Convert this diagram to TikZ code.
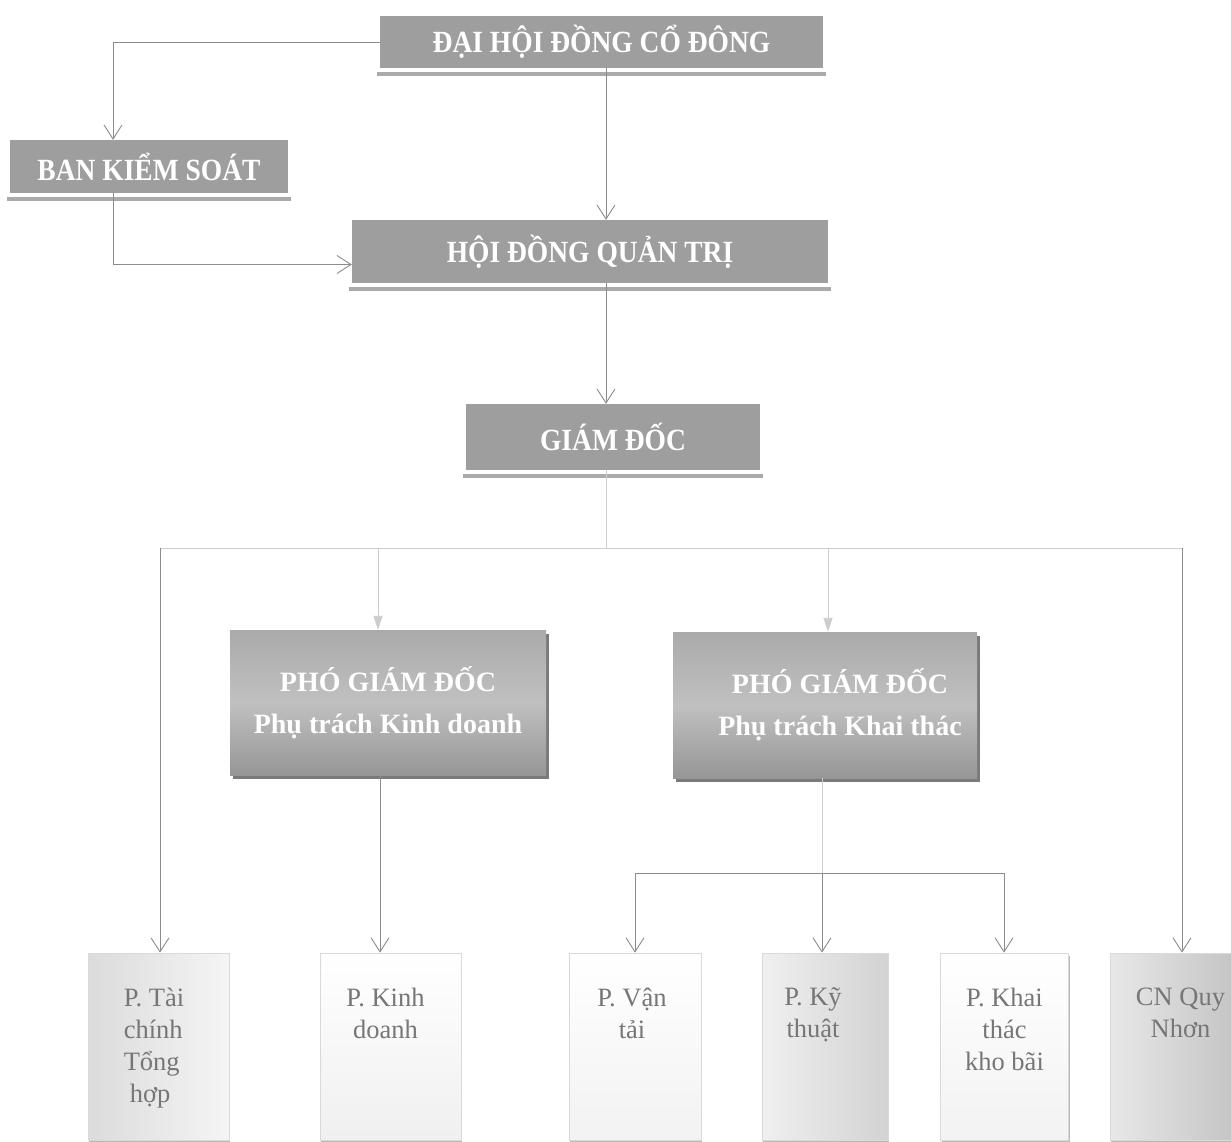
\documentclass[tikz,border=0pt]{standalone}
\usepackage{fontspec}
\setmainfont{Liberation Serif}
\usetikzlibrary{arrows.meta,calc,shadows}

\definecolor{boxgray}{RGB}{158,158,158}
\definecolor{linegray}{RGB}{140,140,140}
\definecolor{lightline}{RGB}{205,205,205}
\definecolor{txtgray}{RGB}{118,118,118}
\definecolor{shadowgray}{RGB}{170,170,170}
\definecolor{vptop}{RGB}{170,170,170}
\definecolor{vpmid}{RGB}{192,192,192}
\definecolor{vpbot}{RGB}{150,150,150}

\newcommand{\tall}[1]{\scalebox{1}[1.12]{#1}}

\tikzset{
  x=1pt, y=-1pt,
  topbox/.style={fill=boxgray, draw=none, text=white, inner sep=0pt,
    font=\fontsize{27.5}{30}\selectfont\bfseries},
  vpbox/.style={top color=vptop, bottom color=vpbot, middle color=vpmid,
    draw=none, text=white, inner sep=0pt, align=center,
    font=\fontsize{28}{42}\selectfont\bfseries,
    drop shadow={shadow xshift=3pt, shadow yshift=-4pt, fill=gray!85!black, opacity=0.9}},
  lowbox/.style={draw=gray!30, line width=0.8pt, inner sep=0pt,
    drop shadow={shadow xshift=1pt, shadow yshift=-3pt, fill=gray!55, opacity=1}},
  lowtext/.style={text=txtgray, font=\fontsize{26.5}{32}\selectfont, align=center, anchor=north, inner sep=0pt},
  conn/.style={draw=linegray, line width=0.9pt},
  arr/.style={conn, -{Straight Barb[length=14pt,width=18pt,line width=0.9pt]}},
  lightconn/.style={draw=lightline, line width=0.9pt},
  lightarr/.style={lightconn, -{Triangle[length=14pt,width=9pt]}},
}

\begin{document}
\begin{tikzpicture}
\useasboundingbox (0,0) rectangle (1231,1142);
\fill[white] (0,0) rectangle (1231,1142);

% top level boxes
\node[topbox, minimum width=443pt, minimum height=52pt] (dh) at (601.5,42) {\tall{ĐẠI HỘI ĐỒNG CỔ ĐÔNG}};
\node[topbox, minimum width=278pt, minimum height=53pt] (bks) at (149,166.5) {\tall{BAN KIỂM SOÁT}};
\node[topbox, minimum width=476pt, minimum height=63pt] (hdqt) at (590,251.5) {\tall{HỘI ĐỒNG QUẢN TRỊ}};
\node[topbox, minimum width=294pt, minimum height=66pt] (gd) at (613,437) {\tall{GIÁM ĐỐC}};

% underline shadows
\foreach \n in {dh,bks,hdqt,gd}{
  \fill[shadowgray] ($(\n.south west)+(-3,4)$) rectangle ($(\n.south east)+(3,8)$);
}

% vice directors
\node[vpbox, minimum width=316pt, minimum height=145pt] (pkd) at (388,702.5) {PHÓ GIÁM ĐỐC\\Phụ trách Kinh doanh};
\node[vpbox, minimum width=304pt, minimum height=146pt] (pkt) at (825,705) {\hspace*{30pt}PHÓ GIÁM ĐỐC\\\hspace*{30pt}Phụ trách Khai thác};

% bottom departments
\node[lowbox, left color=gray!28, right color=gray!8, minimum width=141pt, minimum height=187pt] (b1) at (158.5,1046.5) {};
\node[lowbox, top color=white, bottom color=gray!12, minimum width=141pt, minimum height=187pt] (b2) at (390.5,1046.5) {};
\node[lowbox, top color=white, bottom color=gray!10, minimum width=132pt, minimum height=187pt] (b3) at (635,1046.5) {};
\node[lowbox, left color=gray!12, right color=gray!35, minimum width=126pt, minimum height=187pt] (b4) at (825,1046.5) {};
\node[lowbox, top color=white, bottom color=gray!10, minimum width=128pt, minimum height=187pt] (b5) at (1004.5,1046.5) {};
\node[lowbox, left color=gray!18, right color=gray!45, minimum width=121pt, minimum height=187pt] (b6) at (1170.5,1046.5) {};

\node[lowtext, align=left, anchor=north west] (t1) at ([xshift=36pt,yshift=-35pt]b1.north west) {P. Tài\\chính\\Tổng\\\hspace*{6pt}hợp};
\node[lowtext] (t2) at ([xshift=-5pt,yshift=-35pt]b2.north) {P. Kinh\\doanh};
\node[lowtext] (t3) at ([xshift=-3pt,yshift=-35pt]b3.north) {P. Vận\\tải};
\node[lowtext] (t4) at ([xshift=-12pt,yshift=-35pt]b4.north) {P. Kỹ\\thuật};
\node[lowtext] (t5) at ([xshift=0pt,yshift=-35pt]b5.north) {P. Khai\\thác\\kho bãi};
\node[lowtext] (t6) at ([xshift=10pt,yshift=-35pt]b6.north) {CN Quy\\Nhơn};

% connectors top part
\coordinate (bksin) at (113,140);
\draw[arr] (dh.west) -| (bks.north -| bksin);
\coordinate (dhout) at (606,68);
\draw[arr] (dh.south -| dhout) -- (hdqt.north -| dhout);
\draw[arr] (bks.south -| bksin) |- ([yshift=-13pt]hdqt.west);
\draw[arr] (hdqt.south -| dhout) -- (gd.north -| dhout);

% bus from director
\coordinate (bus) at (606,548);
\coordinate (busL) at (160,548);
\coordinate (busR) at (1182,548);
\draw[lightconn] (gd.south -| bus) -- (bus);
\draw[lightconn] (busL) -- (busR);
\draw[arr] (busL) -- (b1.north -| busL);
\coordinate (vk) at (378,548);
\coordinate (vt) at (828,548);
\draw[lightarr] (vk) -- (pkd.north -| vk);
\draw[lightarr] (vt) -- (pkt.north -| vt);
\draw[arr] (busR) -- (b6.north -| busR);

% vice director KD to dept
\coordinate (kdx) at (380,778);
\draw[arr] (pkd.south -| kdx) -- (b2.north -| kdx);

% vice director KT to depts
\coordinate (ktbus) at (822,873);
\coordinate (ktL) at (635,873);
\coordinate (ktR) at (1004,873);
\draw[lightconn] (pkt.south -| ktbus) -- (ktbus);
\draw[conn] (ktL) -- (ktR);
\draw[arr] (ktL) -- (b3.north -| ktL);
\draw[arr] (ktbus) -- (b4.north -| ktbus);
\draw[arr] (ktR) -- (b5.north -| ktR);
\end{tikzpicture}
\end{document}
